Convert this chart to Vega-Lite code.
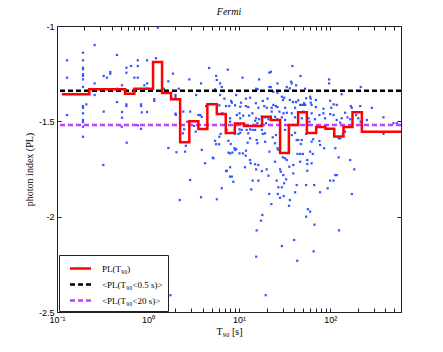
{
"$schema": "https://vega.github.io/schema/vega-lite/v6.json",
"width": 344, "height": 286,
"autosize": {"type": "none"},
"padding": {"left": 57, "top": 26, "right": 42, "bottom": 40},
"background": "white",
"title": {"text": "Fermi", "font": "Liberation Serif", "fontStyle": "italic", "fontWeight": "normal", "fontSize": 10, "offset": 5, "color": "black"},
"config": {
  "view": {"stroke": "#222", "strokeWidth": 1},
  "axis": {"domain": false, "grid": false, "tickColor": "#222", "tickSize": -4, "labelPadding": 7, "labelFont": "Liberation Sans", "labelFontSize": 9, "labelColor": "black", "titleFont": "Liberation Serif", "titleFontSize": 10, "titleFontWeight": "normal", "titleColor": "black", "labelOverlap": false, "labelFlush": false}
},
"datasets": {
"grbs": [
{"T":0.129,"PL":-1.180},{"T":0.129,"PL":-1.271},{"T":0.129,"PL":-1.467},
{"T":0.193,"PL":-1.140},{"T":0.193,"PL":-1.180},{"T":0.193,"PL":-1.219},{"T":0.193,"PL":-1.227},{"T":0.193,"PL":-1.253},{"T":0.193,"PL":-1.262},{"T":0.193,"PL":-1.280},{"T":0.193,"PL":-1.320},{"T":0.193,"PL":-1.420},{"T":0.193,"PL":-1.429},{"T":0.193,"PL":-1.493},{"T":0.193,"PL":-1.504},{"T":0.193,"PL":-1.528},{"T":0.193,"PL":-1.581},{"T":0.193,"PL":-1.458},
{"T":0.259,"PL":-1.100},{"T":0.259,"PL":-1.301},{"T":0.259,"PL":-1.362},{"T":0.210,"PL":-1.411},{"T":0.326,"PL":-1.262},{"T":0.354,"PL":-1.271},{"T":0.385,"PL":-1.241},{"T":0.385,"PL":-1.250},{"T":0.456,"PL":-1.152},{"T":0.456,"PL":-1.329},{"T":0.456,"PL":-1.399},{"T":0.326,"PL":-1.449},{"T":0.518,"PL":-1.311},{"T":0.518,"PL":-1.451},{"T":0.518,"PL":-1.481},{"T":0.578,"PL":-1.219},{"T":0.578,"PL":-1.245},{"T":0.578,"PL":-1.411},{"T":0.578,"PL":-1.420},{"T":0.650,"PL":-1.210},{"T":0.707,"PL":-1.271},{"T":0.771,"PL":-1.180},{"T":0.771,"PL":-1.210},{"T":0.771,"PL":-1.271},{"T":0.838,"PL":-1.411},{"T":0.838,"PL":-1.420},{"T":0.771,"PL":-1.521},{"T":0.838,"PL":-1.539},{"T":0.910,"PL":-1.311},{"T":0.976,"PL":-1.180},{"T":0.976,"PL":-1.301},{"T":0.976,"PL":-1.329},{"T":0.976,"PL":-1.451},
{"T":1.17,"PL":-1.384},{"T":1.17,"PL":-1.393},{"T":1.22,"PL":-1.169},{"T":1.28,"PL":-1.009},{"T":1.49,"PL":-1.329},{"T":1.67,"PL":-1.290},{"T":1.88,"PL":-1.250},{"T":2.00,"PL":-1.362},{"T":2.00,"PL":-1.372},{"T":2.00,"PL":-1.460},{"T":2.17,"PL":-1.329},
{"T":0.323,"PL":-1.729},{"T":0.514,"PL":-1.528},{"T":0.583,"PL":-1.612},{"T":0.853,"PL":-1.453},{"T":1.67,"PL":-1.640},{"T":2.05,"PL":-1.662},{"T":2.23,"PL":-1.913},{"T":1.76,"PL":-2.412},{"T":19.6,"PL":-2.412},{"T":2.02,"PL":-1.466},{"T":2.60,"PL":-1.628},{"T":2.90,"PL":-1.808},{"T":2.90,"PL":-1.449},{"T":3.57,"PL":-1.467},{"T":3.89,"PL":-1.650},{"T":3.82,"PL":-1.898},{"T":5.22,"PL":-1.694},{"T":5.69,"PL":-1.909},{"T":6.45,"PL":-1.851},{"T":7.33,"PL":-1.759},{"T":7.96,"PL":-1.790},{"T":8.65,"PL":-1.817},
{"T":4.68,"PL":-1.220},{"T":7.51,"PL":-1.229},{"T":5.59,"PL":-1.262},{"T":5.69,"PL":-1.283},{"T":2.84,"PL":-1.280},{"T":3.82,"PL":-1.301},{"T":6.18,"PL":-1.301},{"T":6.45,"PL":-1.320},{"T":10.9,"PL":-1.271},{"T":16.6,"PL":-1.280},{"T":21.5,"PL":-1.245},{"T":3.37,"PL":-1.362},{"T":5.45,"PL":-1.332},{"T":6.72,"PL":-1.341},{"T":15.4,"PL":-1.329},{"T":16.0,"PL":-1.332},{"T":21.5,"PL":-1.320},{"T":6.18,"PL":-1.362},{"T":9.27,"PL":-1.362},{"T":6.89,"PL":-1.381},{"T":8.17,"PL":-1.393},{"T":8.32,"PL":-1.402},{"T":11.9,"PL":-1.381},{"T":13.2,"PL":-1.376},{"T":18.2,"PL":-1.393},{"T":20.5,"PL":-1.381},{"T":7.20,"PL":-1.420},{"T":7.80,"PL":-1.420},{"T":9.03,"PL":-1.416},{"T":10.5,"PL":-1.402},{"T":10.3,"PL":-1.423},{"T":11.9,"PL":-1.420},{"T":12.6,"PL":-1.425},{"T":15.3,"PL":-1.405},{"T":16.3,"PL":-1.429},{"T":18.9,"PL":-1.420},{"T":20.1,"PL":-1.429},{"T":6.07,"PL":-1.416},{"T":4.34,"PL":-1.420},
{"T":38.5,"PL":-1.210},{"T":47.2,"PL":-1.262},{"T":22.3,"PL":-1.240},{"T":26.4,"PL":-1.301},{"T":37.3,"PL":-1.292},{"T":37.9,"PL":-1.301},{"T":42.3,"PL":-1.311},{"T":33.4,"PL":-1.320},{"T":36.1,"PL":-1.327},{"T":22.3,"PL":-1.320},{"T":23.8,"PL":-1.345},{"T":53.1,"PL":-1.329},{"T":97.5,"PL":-1.280},{"T":97.5,"PL":-1.301},{"T":217,"PL":-1.320},{"T":134,"PL":-1.358},{"T":26.4,"PL":-1.350},{"T":29.5,"PL":-1.371},{"T":31.3,"PL":-1.376},{"T":30.4,"PL":-1.388},{"T":54.5,"PL":-1.379},{"T":60.2,"PL":-1.371},{"T":61.2,"PL":-1.381},{"T":69.7,"PL":-1.388},{"T":36.1,"PL":-1.388},{"T":39.0,"PL":-1.399},{"T":42.1,"PL":-1.399},{"T":44.6,"PL":-1.390},{"T":51.8,"PL":-1.405},{"T":46.9,"PL":-1.414},{"T":49.3,"PL":-1.414},{"T":51.6,"PL":-1.414},{"T":53.2,"PL":-1.414},{"T":61.2,"PL":-1.402},{"T":62.6,"PL":-1.414},{"T":69.7,"PL":-1.425},{"T":100,"PL":-1.392},{"T":109,"PL":-1.411},{"T":118,"PL":-1.414},{"T":103,"PL":-1.429},{"T":169,"PL":-1.420},{"T":173,"PL":-1.429},{"T":214,"PL":-1.420},{"T":287,"PL":-1.429},{"T":23.8,"PL":-1.414},{"T":25.3,"PL":-1.420},{"T":26.4,"PL":-1.425},{"T":22.8,"PL":-1.429},{"T":32.0,"PL":-1.429},{"T":41.2,"PL":-1.429},{"T":84.4,"PL":-1.434},
{"T":3.73,"PL":-1.467},{"T":3.89,"PL":-1.476},{"T":3.34,"PL":-1.554},{"T":2.41,"PL":-1.563},{"T":2.55,"PL":-1.659},{"T":4.23,"PL":-1.720},{"T":5.14,"PL":-1.691},{"T":5.45,"PL":-1.602},{"T":5.59,"PL":-1.620},{"T":6.03,"PL":-1.620},{"T":6.07,"PL":-1.581},{"T":6.27,"PL":-1.566},{"T":6.55,"PL":-1.458},{"T":7.96,"PL":-1.484},{"T":7.96,"PL":-1.502},{"T":7.63,"PL":-1.602},{"T":8.10,"PL":-1.619},{"T":8.88,"PL":-1.641},{"T":9.03,"PL":-1.650},{"T":9.27,"PL":-1.645},{"T":7.63,"PL":-1.664},{"T":7.96,"PL":-1.668},{"T":8.44,"PL":-1.664},{"T":10.1,"PL":-1.668},{"T":11.0,"PL":-1.668},{"T":11.9,"PL":-1.654},{"T":12.4,"PL":-1.612},{"T":13.2,"PL":-1.589},{"T":11.8,"PL":-1.680},{"T":13.2,"PL":-1.703},{"T":13.4,"PL":-1.720},{"T":15.0,"PL":-1.725},{"T":16.3,"PL":-1.729},{"T":7.96,"PL":-1.741},{"T":7.20,"PL":-1.761},{"T":15.4,"PL":-1.752},{"T":17.8,"PL":-1.761},{"T":20.1,"PL":-1.752},{"T":8.32,"PL":-1.790},{"T":14.1,"PL":-1.811},{"T":16.3,"PL":-1.811},{"T":13.6,"PL":-1.857},
{"T":9.44,"PL":-1.467},{"T":10.1,"PL":-1.458},{"T":10.3,"PL":-1.484},{"T":11.1,"PL":-1.470},{"T":12.9,"PL":-1.470},{"T":14.0,"PL":-1.458},{"T":15.0,"PL":-1.497},{"T":15.4,"PL":-1.484},{"T":15.9,"PL":-1.510},{"T":16.6,"PL":-1.489},{"T":17.8,"PL":-1.476},{"T":19.3,"PL":-1.479},{"T":19.8,"PL":-1.510},{"T":21.0,"PL":-1.489},{"T":7.02,"PL":-1.519},{"T":7.30,"PL":-1.545},{"T":10.1,"PL":-1.542},{"T":10.7,"PL":-1.545},{"T":12.1,"PL":-1.545},{"T":13.2,"PL":-1.542},{"T":14.1,"PL":-1.545},{"T":15.0,"PL":-1.545},{"T":17.8,"PL":-1.545},{"T":18.2,"PL":-1.566},{"T":19.3,"PL":-1.563},{"T":9.03,"PL":-1.566},{"T":9.84,"PL":-1.566},{"T":10.3,"PL":-1.560},{"T":12.6,"PL":-1.563},{"T":15.6,"PL":-1.598},{"T":15.9,"PL":-1.615},{"T":19.3,"PL":-1.607},{"T":21.5,"PL":-1.659},{"T":11.6,"PL":-1.741},{"T":21.0,"PL":-1.785},{"T":2.49,"PL":-1.542},{"T":2.70,"PL":-1.502},{"T":3.20,"PL":-1.524},{"T":2.44,"PL":-1.449},
{"T":22.8,"PL":-1.449},{"T":24.9,"PL":-1.476},{"T":26.4,"PL":-1.489},{"T":27.7,"PL":-1.449},{"T":29.5,"PL":-1.479},{"T":30.7,"PL":-1.458},{"T":33.4,"PL":-1.455},{"T":32.0,"PL":-1.493},{"T":37.9,"PL":-1.458},{"T":41.2,"PL":-1.479},{"T":48.8,"PL":-1.484},{"T":50.8,"PL":-1.449},{"T":57.8,"PL":-1.484},{"T":59.3,"PL":-1.502},{"T":62.6,"PL":-1.458},{"T":68.1,"PL":-1.489},{"T":76.3,"PL":-1.467},{"T":84.4,"PL":-1.458},{"T":88.1,"PL":-1.484},{"T":100,"PL":-1.462},{"T":109,"PL":-1.467},{"T":118,"PL":-1.493},{"T":129,"PL":-1.507},{"T":134,"PL":-1.484},{"T":146,"PL":-1.455},{"T":155,"PL":-1.479},{"T":166,"PL":-1.489},{"T":193,"PL":-1.467},{"T":204,"PL":-1.484},{"T":216,"PL":-1.502},{"T":253,"PL":-1.493},{"T":385,"PL":-1.479},{"T":496,"PL":-1.510},{"T":540,"PL":-1.510},{"T":385,"PL":-1.566},
{"T":23.4,"PL":-1.584},{"T":25.4,"PL":-1.572},{"T":24.8,"PL":-1.615},{"T":32.0,"PL":-1.545},{"T":35.6,"PL":-1.537},{"T":37.9,"PL":-1.572},{"T":41.2,"PL":-1.560},{"T":42.9,"PL":-1.598},{"T":44.6,"PL":-1.598},{"T":48.8,"PL":-1.598},{"T":47.6,"PL":-1.619},{"T":54.5,"PL":-1.566},{"T":62.6,"PL":-1.607},{"T":65.1,"PL":-1.594},{"T":76.3,"PL":-1.603},{"T":77.6,"PL":-1.624},{"T":85.9,"PL":-1.641},{"T":60.2,"PL":-1.659},{"T":64.4,"PL":-1.671},{"T":43.8,"PL":-1.671},{"T":46.9,"PL":-1.671},{"T":50.2,"PL":-1.671},{"T":114,"PL":-1.641},{"T":124,"PL":-1.589},{"T":129,"PL":-1.589},{"T":138,"PL":-1.566},{"T":146,"PL":-1.554},{"T":124,"PL":-1.689},{"T":166,"PL":-1.703},{"T":26.4,"PL":-1.641},{"T":27.0,"PL":-1.650},{"T":24.8,"PL":-1.712},{"T":30.3,"PL":-1.689},{"T":32.0,"PL":-1.694},{"T":33.4,"PL":-1.703},{"T":35.6,"PL":-1.738},{"T":39.4,"PL":-1.729},{"T":46.9,"PL":-1.712},{"T":56.1,"PL":-1.703},{"T":56.1,"PL":-1.724},{"T":62.6,"PL":-1.720},{"T":56.1,"PL":-1.759},{"T":28.2,"PL":-1.752},{"T":28.7,"PL":-1.764},{"T":39.4,"PL":-1.773},{"T":30.6,"PL":-1.782},{"T":114,"PL":-1.782},{"T":118,"PL":-1.782},{"T":184,"PL":-1.752},{"T":25.9,"PL":-1.811},{"T":32.8,"PL":-1.804},{"T":100,"PL":-1.811},{"T":109,"PL":-1.811},{"T":27.0,"PL":-1.846},{"T":29.5,"PL":-1.846},{"T":42.9,"PL":-1.834},{"T":54.5,"PL":-1.834},{"T":66.9,"PL":-1.834},{"T":31.2,"PL":-1.825},{"T":93.9,"PL":-1.851},
{"T":21.4,"PL":-1.881},{"T":26.6,"PL":-1.881},{"T":28.2,"PL":-1.901},{"T":30.9,"PL":-1.892},{"T":41.2,"PL":-1.872},{"T":77.6,"PL":-1.872},{"T":36.1,"PL":-1.913},{"T":35.3,"PL":-1.943},{"T":22.6,"PL":-1.934},{"T":173,"PL":-1.881},{"T":18.0,"PL":-1.991},{"T":17.4,"PL":-2.021},{"T":56.9,"PL":-1.961},{"T":60.2,"PL":-1.974},{"T":54.5,"PL":-2.000},{"T":67.2,"PL":-2.042},{"T":125,"PL":-2.072},{"T":15.6,"PL":-2.072},{"T":40.2,"PL":-2.122},{"T":29.5,"PL":-2.154},{"T":65.8,"PL":-2.182},{"T":15.4,"PL":-2.210},{"T":43.5,"PL":-2.231}
],
"step": [
{"T":0.113,"PL":-1.358,"series":"PL(T₉₀)"},{"T":0.226,"PL":-1.332,"series":"PL(T₉₀)"},{"T":0.559,"PL":-1.355,"series":"PL(T₉₀)"},{"T":0.707,"PL":-1.329,"series":"PL(T₉₀)"},{"T":1.135,"PL":-1.189,"series":"PL(T₉₀)"},{"T":1.425,"PL":-1.351,"series":"PL(T₉₀)"},{"T":1.79,"PL":-1.384,"series":"PL(T₉₀)"},{"T":2.25,"PL":-1.61,"series":"PL(T₉₀)"},{"T":2.84,"PL":-1.50,"series":"PL(T₉₀)"},{"T":3.57,"PL":-1.54,"series":"PL(T₉₀)"},{"T":4.48,"PL":-1.411,"series":"PL(T₉₀)"},{"T":5.69,"PL":-1.462,"series":"PL(T₉₀)"},{"T":7.14,"PL":-1.561,"series":"PL(T₉₀)"},{"T":8.97,"PL":-1.511,"series":"PL(T₉₀)"},{"T":11.3,"PL":-1.524,"series":"PL(T₉₀)"},{"T":17.9,"PL":-1.476,"series":"PL(T₉₀)"},{"T":22.3,"PL":-1.493,"series":"PL(T₉₀)"},{"T":28.2,"PL":-1.666,"series":"PL(T₉₀)"},{"T":35.2,"PL":-1.519,"series":"PL(T₉₀)"},{"T":44.5,"PL":-1.453,"series":"PL(T₉₀)"},{"T":55.5,"PL":-1.561,"series":"PL(T₉₀)"},{"T":70.2,"PL":-1.53,"series":"PL(T₉₀)"},{"T":88.8,"PL":-1.539,"series":"PL(T₉₀)"},{"T":111,"PL":-1.58,"series":"PL(T₉₀)"},{"T":140,"PL":-1.53,"series":"PL(T₉₀)"},{"T":176,"PL":-1.453,"series":"PL(T₉₀)"},{"T":223,"PL":-1.554,"series":"PL(T₉₀)"},{"T":600,"PL":-1.554,"series":"PL(T₉₀)"}
],
"means": [
{"PL":-1.339,"series":"<PL(T₉₀<0.5 s)>"},
{"PL":-1.519,"series":"<PL(T₉₀<20 s)>"}
]
},
"resolve": {"axis": {"x": "independent", "y": "independent"}},
"layer": [
{
"data": {"name": "grbs"},
"mark": {"type": "point", "shape": "square", "filled": true, "size": 5, "color": "#3355ff", "opacity": 1},
"encoding": {
"x": {"field": "T", "type": "quantitative", "scale": {"type": "log", "domain": [0.1, 600], "nice": false},
 "axis": {"orient": "bottom", "title": "T₉₀ [s]", "titlePadding": 2,
 "values": [0.1,0.2,0.3,0.4,0.5,0.6,0.7,0.8,0.9,1,2,3,4,5,6,7,8,9,10,20,30,40,50,60,70,80,90,100,200,300,400,500],
 "labelExpr": "datum.value==0.1?'10⁻¹':datum.value==1?'10⁰':datum.value==10?'10¹':datum.value==100?'10²':''"}},
"y": {"field": "PL", "type": "quantitative", "scale": {"domain": [-2.5, -1], "nice": false},
 "axis": {"orient": "left", "title": "photon index (PL)", "titlePadding": 4, "values": [-2.5,-2,-1.5,-1], "labelExpr": "toString(datum.value)"}}
}
},
{
"data": {"name": "means"},
"mark": {"type": "rule", "strokeWidth": 2.5},
"encoding": {
"y": {"field": "PL", "type": "quantitative", "axis": null},
"color": {"field": "series", "type": "nominal", "scale": {"domain": ["PL(T₉₀)", "<PL(T₉₀<0.5 s)>", "<PL(T₉₀<20 s)>"], "range": ["#ff0000", "#000000", "#c040ff"]},
 "legend": {"orient": "none", "legendX": 2, "legendY": 229, "title": null, "fillColor": "white", "strokeColor": "#222", "padding": 5, "symbolType": "M-1.5,0H1.5", "symbolSize": 196, "symbolStrokeWidth": 2.5, "symbolOffset": 8, "labelOffset": 13, "labelFont": "Liberation Serif", "labelFontSize": 9, "labelColor": "black", "rowPadding": 2, "labelLimit": 200}},
"strokeDash": {"field": "series", "type": "nominal", "scale": {"domain": ["PL(T₉₀)", "<PL(T₉₀<0.5 s)>", "<PL(T₉₀<20 s)>"], "range": [[1,0],[5,3],[5,3]]},
 "legend": {"orient": "none", "legendX": 2, "legendY": 229, "title": null, "fillColor": "white", "strokeColor": "#222", "padding": 5, "symbolType": "M-1.5,0H1.5", "symbolSize": 196, "symbolStrokeWidth": 2.5, "symbolOffset": 8, "labelOffset": 13, "labelFont": "Liberation Serif", "labelFontSize": 9, "labelColor": "black", "rowPadding": 2, "labelLimit": 200}}
}
},
{
"data": {"name": "step"},
"mark": {"type": "line", "interpolate": "step-after", "strokeWidth": 2.5},
"encoding": {
"x": {"field": "T", "type": "quantitative", "axis": {"orient": "top", "title": null, "labels": false,
 "values": [0.1,0.2,0.3,0.4,0.5,0.6,0.7,0.8,0.9,1,2,3,4,5,6,7,8,9,10,20,30,40,50,60,70,80,90,100,200,300,400,500]}},
"y": {"field": "PL", "type": "quantitative", "axis": {"orient": "right", "title": null, "labels": false, "values": [-2.5,-2,-1.5,-1]}},
"color": {"field": "series", "type": "nominal"},
"strokeDash": {"field": "series", "type": "nominal"}
}
}
]
}
